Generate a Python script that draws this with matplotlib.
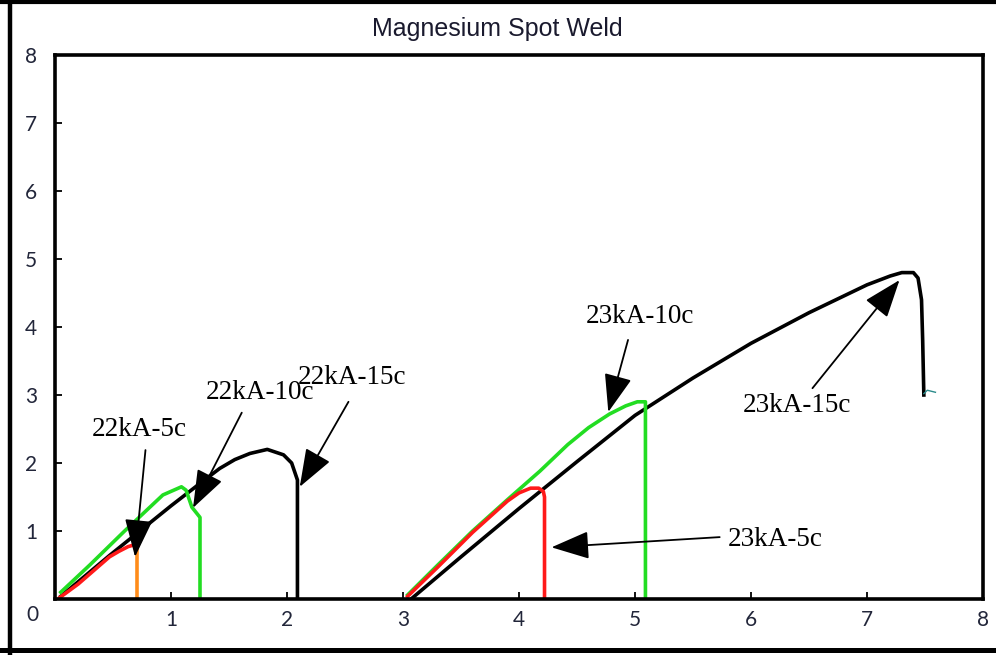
import matplotlib
matplotlib.use("Agg")
import matplotlib.pyplot as plt
from matplotlib.lines import Line2D

# ---- data -------------------------------------------------------------
# 22 kA welds
x_22_15 = [0.05, 0.47, 1.00, 1.25, 1.42, 1.55, 1.68, 1.83, 1.97, 2.04, 2.07, 2.09, 2.09]
y_22_15 = [0.04, 0.64, 1.37, 1.70, 1.92, 2.05, 2.14, 2.20, 2.12, 2.00, 1.85, 1.75, 0.00]

x_22_10 = [0.05, 0.30, 0.60, 0.93, 1.09, 1.13, 1.18, 1.25, 1.25]
y_22_10 = [0.10, 0.50, 1.00, 1.53, 1.65, 1.60, 1.35, 1.20, 0.00]

x_22_5 = [0.04, 0.20, 0.47, 0.55, 0.63, 0.69, 0.71]
y_22_5 = [0.02, 0.22, 0.62, 0.70, 0.77, 0.80, 0.77]
x_22_5_drop = [0.71, 0.71]
y_22_5_drop = [0.77, 0.00]

# 23 kA welds
x_23_15 = [3.07, 3.50, 4.00, 4.50, 5.00, 5.50, 6.00, 6.50, 7.00, 7.20, 7.30, 7.40,
           7.44, 7.47, 7.48, 7.49]
y_23_15 = [0.00, 0.62, 1.33, 2.02, 2.70, 3.25, 3.76, 4.21, 4.62, 4.75, 4.80, 4.80,
           4.72, 4.40, 3.80, 3.00]
x_23_15_tail = [7.49, 7.52, 7.59]
y_23_15_tail = [3.02, 3.07, 3.04]

x_23_10 = [3.04, 3.30, 3.60, 3.90, 4.18, 4.42, 4.60, 4.78, 4.92, 5.02, 5.09, 5.09]
y_23_10 = [0.06, 0.50, 1.00, 1.46, 1.88, 2.27, 2.52, 2.72, 2.84, 2.90, 2.90, 0.00]

x_23_5 = [3.04, 3.30, 3.60, 3.90, 4.00, 4.10, 4.17, 4.21, 4.22, 4.22]
y_23_5 = [0.04, 0.47, 0.98, 1.44, 1.56, 1.63, 1.63, 1.58, 1.50, 0.00]

# annotations: label, text position, arrow tail, arrow tip
labels = ["22kA-5c", "22kA-10c", "22kA-15c", "23kA-10c", "23kA-15c", "23kA-5c"]
label_xy = [(0.73, 2.49), (1.77, 3.03), (2.56, 3.25), (5.04, 4.16), (6.40, 2.84), (6.21, 0.87)]
tail_xy = [(0.78, 2.19), (1.61, 2.74), (2.53, 2.90), (4.94, 3.81), (6.53, 3.10), (5.73, 0.91)]
tip_xy = [(0.69, 0.62), (1.19, 1.34), (2.11, 1.65), (4.77, 2.75), (7.28, 4.69), (4.28, 0.76)]

xticks = [1, 2, 3, 4, 5, 6, 7, 8]
yticks = [1, 2, 3, 4, 5, 6, 7, 8]

# ---- figure -----------------------------------------------------------
W, H = 996, 655
fig = plt.figure(figsize=(W / 100, H / 100), dpi=100)
ax = fig.add_axes([55 / W, 1 - 599 / H, 928 / W, 544 / H])

GREEN = "#22dd22"
RED = "#ff1a1a"
ORANGE = "#ff8c1a"
LW = 2.6

ax.plot(x_22_15, y_22_15, color="black", lw=LW)
ax.plot(x_22_10, y_22_10, color=GREEN, lw=LW)
ax.plot(x_22_5, y_22_5, color=RED, lw=LW)
ax.plot(x_22_5_drop, y_22_5_drop, color=ORANGE, lw=LW)

ax.plot(x_23_15, y_23_15, color="black", lw=LW)
ax.plot(x_23_15_tail, y_23_15_tail, color="#2a8a8a", lw=1.0)
ax.plot(x_23_10, y_23_10, color=GREEN, lw=LW)
ax.plot(x_23_5, y_23_5, color=RED, lw=LW)

for lab, txy, a, b in zip(labels, label_xy, tail_xy, tip_xy):
    ax.text(txy[0], txy[1], lab, ha="center", va="center",
            fontsize=19.5, family="Liberation Serif", color="black")
    ax.annotate("", xy=b, xytext=a,
                arrowprops=dict(arrowstyle="-|>,head_length=0.95,head_width=0.35",
                                mutation_scale=25, lw=1.3, color="black",
                                shrinkA=0, shrinkB=0))

ax.set_xlim(0, 8)
ax.set_ylim(0, 8)
ax.set_xticks(xticks)
ax.set_yticks(yticks)
TICK_COLOR = "#22263a"
ax.tick_params(axis="both", direction="in", length=5, width=1.3,
               labelsize=15, labelcolor=TICK_COLOR)
ax.tick_params(axis="y", pad=13)
ax.tick_params(axis="x", pad=8)
for t in ax.get_xticklabels() + ax.get_yticklabels():
    t.set_family("Lato")
ax.get_xticklabels()[-1].set_x(7.96)
for sp in ax.spines.values():
    sp.set_linewidth(2.6)
    sp.set_color("black")

fig.text(32 / W, 1 - 615 / H, "0", ha="center", va="center",
         fontsize=15, family="Lato", color=TICK_COLOR)

fig.text(497 / W, 1 - 29 / H, "Magnesium Spot Weld", ha="center", va="center",
         fontsize=18, family="Liberation Sans", color="#1a1a2e")

# outer frame of the figure
fig.add_artist(Line2D([10 / W, 10 / W], [0, 1], transform=fig.transFigure,
                      color="black", lw=3.2))
fig.add_artist(Line2D([0, 1], [1 - 1.5 / H, 1 - 1.5 / H], transform=fig.transFigure,
                      color="black", lw=3.0))
fig.add_artist(Line2D([0, 1], [1 - 649.5 / H, 1 - 649.5 / H], transform=fig.transFigure,
                      color="black", lw=3.6))

fig.savefig("out.png", dpi=100, facecolor="white")
